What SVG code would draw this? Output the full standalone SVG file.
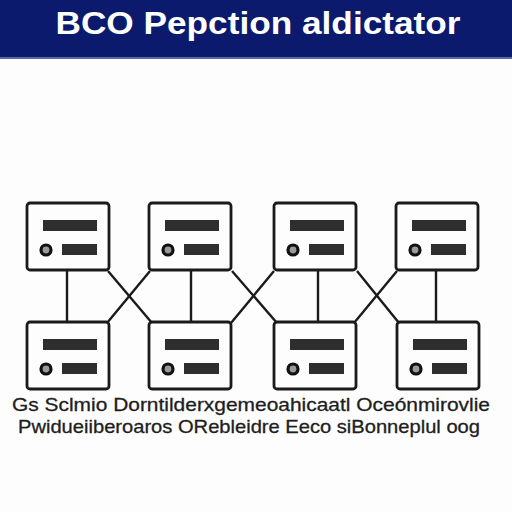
<svg xmlns="http://www.w3.org/2000/svg" width="512" height="512" viewBox="0 0 512 512">
<defs>
<style>
.box{fill:#fdfdfd;stroke:#1a1a1a;stroke-width:2.8}
.bar{fill:#2e2e2e}
.dot{fill:#9a9a9a;stroke:#111;stroke-width:3.2}
.conn{stroke:#1a1a1a;stroke-width:2.4;fill:none}
.cap{font-family:"Liberation Sans",Arial,sans-serif;font-size:18.5px;fill:#1e1e1e;stroke:#1e1e1e;stroke-width:0.3}
</style>
<g id="tpl">
<rect class="box" x="0" y="0" width="82" height="67" rx="3"/>
<rect class="bar" x="16" y="17" width="54" height="11"/>
<circle class="dot" cx="19" cy="47" r="5"/>
<rect class="bar" x="35" y="41" width="35" height="11"/>
</g>
</defs>
<rect width="512" height="512" fill="#fdfdfd"/>
<rect width="512" height="57" fill="#0b1a6c"/>
<rect y="57" width="512" height="2" fill="#5a6aa8"/>
<text x="258" y="34" text-anchor="middle" font-family="Liberation Sans,Arial,sans-serif" font-weight="bold" font-size="31" fill="#ffffff" textLength="405" lengthAdjust="spacingAndGlyphs">BCO Pepction aldictator</text>
<g id="connectors">
<line class="conn" x1="67" y1="271" x2="67" y2="323"/>
<line class="conn" x1="191" y1="271" x2="191" y2="323"/>
<line class="conn" x1="318" y1="271" x2="318" y2="323"/>
<line class="conn" x1="436" y1="271" x2="436" y2="323"/>
<line class="conn" x1="108" y1="271" x2="152" y2="323"/>
<line class="conn" x1="150" y1="271" x2="107" y2="323"/>
<line class="conn" x1="232" y1="271" x2="277" y2="323"/>
<line class="conn" x1="274" y1="271" x2="231" y2="323"/>
<line class="conn" x1="357" y1="271" x2="399" y2="323"/>
<line class="conn" x1="397" y1="271" x2="354" y2="323"/>
</g>
<g id="n1"><use href="#tpl" x="27" y="203"/></g>
<g id="n2"><use href="#tpl" x="149" y="203"/></g>
<g id="n3"><use href="#tpl" x="274" y="203"/></g>
<g id="n4"><use href="#tpl" x="396" y="203"/></g>
<g id="n5"><use href="#tpl" x="27" y="322"/></g>
<g id="n6"><use href="#tpl" x="149" y="322"/></g>
<g id="n7"><use href="#tpl" x="274" y="322"/></g>
<g id="n8"><use href="#tpl" x="397" y="322"/></g>
<text class="cap" x="12" y="411" textLength="478" lengthAdjust="spacingAndGlyphs">Gs Sclmio  Dorntilderxgemeoahicaatl  Oceónmirovlie</text>
<text class="cap" x="18" y="433" textLength="462" lengthAdjust="spacingAndGlyphs">Pwidueiiberoaros  ORebleidre  Eeco  siBonneplul  oog</text>
</svg>
